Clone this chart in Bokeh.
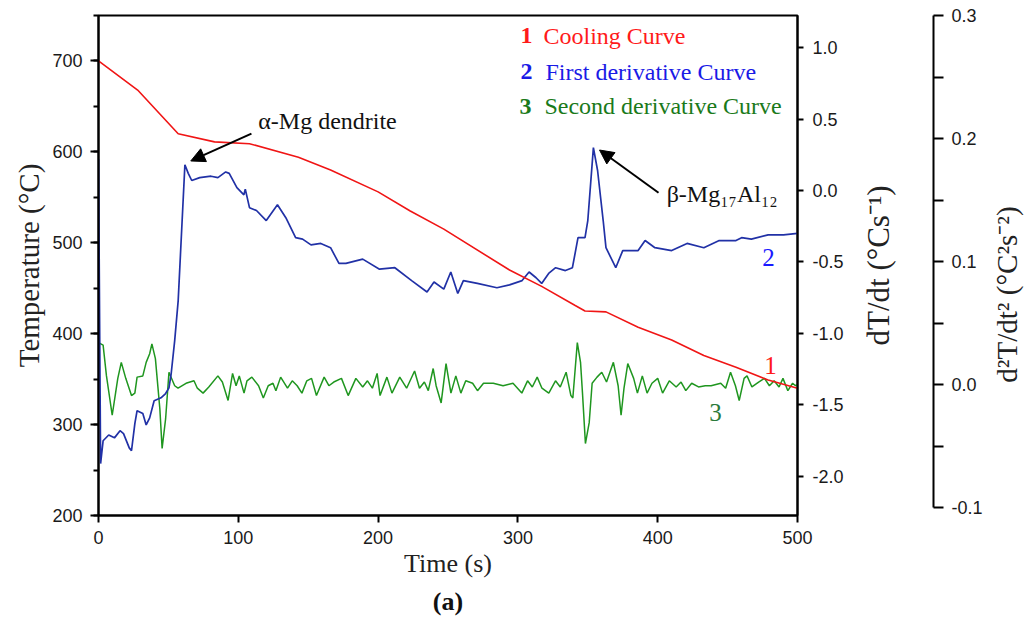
from bokeh.plotting import figure
from bokeh.layouts import row
from bokeh.models import (Range1d, LinearAxis, SingleIntervalTicker, FixedTicker,
                          PrintfTickFormatter, Label, Arrow, NormalHead, Title)
from bokeh.embed import file_html
from bokeh.resources import INLINE

# ---------------- data ----------------
# Cooling curve (left axis, deg C)
time_cool = [0, 28, 57, 83, 108, 143, 166, 200, 223, 247, 294, 317, 341, 348, 363,
             386, 410, 433, 456, 479, 500]
temp_cool = [700, 668, 620, 611, 609, 594, 580, 556, 535, 515, 470, 452, 431, 425, 424,
             407, 393, 376, 363, 349, 340]

# First derivative (dT/dt, deg C/s)
time_d1 = [0, 1.5, 3.3, 7.3, 11.4, 15.4, 17.9, 22, 23.6, 26,
           27.6, 31.7, 34.1, 36.6, 39.8, 44.7, 48, 50.4, 52, 54.5,
           57, 61.8, 64.2, 66.7, 72.4, 80.5, 85.4, 91, 93.5, 99,
           104, 105, 108, 113, 120, 128, 134, 141, 146, 152,
           159, 166, 172, 177, 189, 201, 212, 224, 235, 240,
           247, 252, 257, 261, 271, 285, 294, 303, 308, 313,
           317, 322, 327, 334, 339, 343, 348, 350, 354, 357,
           361, 363, 370, 375, 386, 391, 398, 410, 421, 433,
           444, 456, 460, 467, 479, 490, 500]
val_d1 = [0.22, -1.91, -1.75, -1.71, -1.73, -1.68, -1.70, -1.80, -1.82, -1.63,
          -1.54, -1.56, -1.64, -1.59, -1.47, -1.45, -1.42, -1.38, -1.28, -1.05,
          -0.77, 0.18, 0.12, 0.07, 0.09, 0.10, 0.09, 0.13, 0.12, 0.02,
          -0.03, 0.01, -0.12, -0.14, -0.21, -0.10, -0.19, -0.33, -0.34, -0.38,
          -0.37, -0.40, -0.51, -0.51, -0.48, -0.55, -0.54, -0.63, -0.71, -0.64,
          -0.69, -0.57, -0.72, -0.63, -0.65, -0.68, -0.66, -0.63, -0.57, -0.61,
          -0.65, -0.58, -0.54, -0.56, -0.54, -0.33, -0.33, -0.21, 0.30, 0.14,
          -0.21, -0.40, -0.54, -0.42, -0.42, -0.35, -0.40, -0.42, -0.37, -0.40,
          -0.35, -0.35, -0.33, -0.34, -0.31, -0.31, -0.30]

# Second derivative (d2T/dt2, deg C^2 s^-2)
time_d2 = [0, 3.3, 5.7, 9.8, 12.2, 13.8, 16.3, 19.5, 23.6, 26.0,
           27.6, 31.7, 34.1, 36.6, 38.2, 40.7, 43.9, 45.5, 48.0, 50.4,
           54.5, 56.9, 62.6, 68.3, 70.7, 74.8, 78.9, 85.4, 88.6, 92.7,
           95.9, 98.4, 100.7, 104.1, 106.2, 109.7, 114.5, 117.9, 121.4, 124.8,
           126.9, 130.3, 135.2, 138.6, 142.1, 145.5, 149.0, 152.4, 155.9, 161.4,
           164.8, 168.3, 173.8, 178.6, 184.1, 189.0, 192.4, 195.9, 199.3, 201.4,
           206.3, 209.9, 215.5, 220.4, 226.1, 229.6, 233.1, 235.9, 239.4, 241.5,
           245.1, 248.6, 252.1, 255.6, 259.2, 262.7, 267.6, 271.1, 275.4, 282.4,
           289.4, 296.5, 302.8, 306.9, 310.3, 313.8, 317.2, 322.1, 326.9, 330.3,
           334.5, 337.9, 339.3, 342.5, 344.8, 346.2, 348.3, 351.0, 353.1, 356.6,
           360.0, 363.4, 368.3, 371.7, 373.8, 375.9, 378.6, 382.8, 385.5, 389.0,
           392.4, 395.9, 400.0, 403.5, 408.3, 413.2, 416.7, 420.1, 424.3, 429.2,
           434.0, 438.2, 445.1, 448.6, 452.1, 455.6, 458.3, 461.8, 463.9, 467.4,
           472.2, 476.4, 479.9, 483.3, 486.8, 489.6, 493.1, 496.5, 498.6, 500]
val_d2 = [0.034, 0.032, 0.007, -0.025, -0.007, 0.005, 0.018, 0.005, -0.009, -0.007,
          0.006, 0.007, 0.018, 0.025, 0.033, 0.021, -0.020, -0.052, -0.028, 0.010,
          -0.001, -0.003, 0.001, 0.003, -0.003, -0.007, -0.002, 0.007, 0.002, -0.013,
          0.009, -0.001, 0.007, -0.007, 0.003, 0.006, -0.001, -0.011, -0.001, 0.001,
          -0.005, 0.006, -0.003, 0.003, -0.001, -0.007, 0.003, 0.005, -0.009, 0.006,
          -0.001, 0.002, 0.005, -0.009, 0.005, -0.002, 0.003, -0.003, 0.009, -0.009,
          0.006, -0.007, 0.006, -0.003, 0.011, -0.003, 0.002, -0.005, 0.013, -0.001,
          -0.015, 0.017, -0.007, 0.007, -0.007, 0.003, 0.001, -0.005, 0.001, 0.001,
          -0.001, 0.001, -0.007, 0.003, -0.002, 0.006, -0.003, -0.007, 0.003, -0.002,
          0.010, -0.009, -0.011, 0.034, 0.018, -0.007, -0.048, -0.031, 0.001, 0.006,
          0.010, 0.002, 0.018, -0.001, -0.025, -0.003, 0.017, 0.005, -0.007, 0.007,
          -0.007, 0.001, 0.005, -0.007, 0.003, -0.002, 0.002, -0.005, 0.001, -0.002,
          -0.001, -0.001, 0.001, -0.003, 0.010, -0.001, -0.013, 0.005, 0.007, -0.002,
          0.002, 0.005, -0.001, 0.003, -0.002, 0.005, -0.005, 0.001, -0.001, 0.000]

d2_ticks = [-0.1, 0.0, 0.1, 0.2, 0.3]
d2_minor_ticks = [-0.05, 0.05, 0.15, 0.25]

legend_numbers = ["1", "2", "3"]
legend_texts = ["Cooling Curve", "First derivative Curve", "Second derivative Curve"]

# ---------------- styling ----------------
SERIF = "Liberation Serif"
SANS = "Liberation Sans"
RED = "#f01515"
BLUE = "#2131a6"
GREEN = "#1f961f"

d1_range = Range1d(-2.273, 1.224)
d2_range = Range1d(-0.1065, 0.3)

p = figure(frame_width=699, frame_height=500, output_backend="svg", toolbar_location=None,
           x_range=Range1d(0, 500), y_range=Range1d(200, 750),
           min_border_left=98, min_border_top=15, min_border_right=50, min_border_bottom=0,
           background_fill_color="white", border_fill_color="white")
p.grid.visible = False
p.outline_line_color = "black"
p.outline_line_width = 2
p.extra_y_ranges = {"d1": d1_range, "d2": d2_range}


def style_axis(ax, tick_len):
    ax.axis_line_color = "black"
    ax.axis_line_width = 2
    ax.major_tick_line_color = "black"
    ax.major_tick_line_width = 2
    ax.minor_tick_line_color = "black"
    ax.minor_tick_line_width = 2
    ax.major_tick_in = 0
    ax.major_tick_out = tick_len
    ax.minor_tick_in = 0
    ax.major_label_text_font = SANS
    ax.major_label_text_font_size = "18px"
    ax.major_label_text_color = "#1a1a1a"
    ax.axis_label_text_font = SERIF
    ax.axis_label_text_font_style = "normal"
    ax.axis_label_text_color = "#222222"


def label_only_axis(ax, text, size, standoff):
    ax.ticker = FixedTicker(ticks=[])
    ax.axis_line_color = None
    ax.major_tick_line_color = None
    ax.minor_tick_line_color = None
    ax.major_tick_out = 0
    ax.major_tick_in = 0
    ax.minor_tick_out = 0
    ax.minor_tick_in = 0
    ax.axis_label = text
    ax.axis_label_text_font = SERIF
    ax.axis_label_text_font_style = "normal"
    ax.axis_label_text_font_size = size
    ax.axis_label_text_color = "#222222"
    ax.axis_label_standoff = standoff


# bottom axis
xa = p.xaxis[0]
xa.ticker = SingleIntervalTicker(interval=100, num_minor_ticks=0)
style_axis(xa, 7)
xa.minor_tick_out = 0
xa.major_label_standoff = 8
xa.axis_label = "Time (s)"
xa.axis_label_text_font_size = "26px"
xa.axis_label_standoff = 2

# left axis
ya = p.yaxis[0]
ya.ticker = SingleIntervalTicker(interval=100, num_minor_ticks=2)
style_axis(ya, 8)
ya.minor_tick_out = 5
ya.major_label_standoff = 8
ya.axis_label = "Temperature (°C)"
ya.axis_label_text_font_size = "29px"
ya.axis_label_standoff = 4

# right axis: dT/dt
ax1 = LinearAxis(y_range_name="d1",
                 ticker=SingleIntervalTicker(interval=0.5, num_minor_ticks=0),
                 formatter=PrintfTickFormatter(format="%.1f"))
style_axis(ax1, 6)
ax1.minor_tick_out = 0
ax1.major_label_standoff = 9
p.add_layout(ax1, "right")

# (a) caption
p.add_layout(Title(text="(a)", align="center", text_font=SERIF, text_font_size="26px",
                   text_font_style="bold", text_color="#111111", standoff=8), "below")

# ---------------- curves ----------------
p.line(time_d2, val_d2, y_range_name="d2", line_color=GREEN, line_width=1.5)
p.line(time_d1, val_d1, y_range_name="d1", line_color=BLUE, line_width=1.7)
p.line(time_cool, temp_cool, line_color=RED, line_width=1.6)

# ---------------- text annotations ----------------
num_colors = ["#ff1a1a", "#1a1ae6", "#1a7a1a"]
row_y = [728, 688.4, 650]
num_x = [301.9, 301.9, 301.1]
txt_x = [318.3, 319.7, 319.0]
for i in range(3):
    p.add_layout(Label(x=num_x[i], y=row_y[i], text=legend_numbers[i], text_font=SERIF,
                       text_font_size="24px", text_font_style="bold",
                       text_color=num_colors[i], text_baseline="middle", text_align="left"))
    p.add_layout(Label(x=txt_x[i], y=row_y[i], text=legend_texts[i], text_font=SERIF,
                       text_font_size="24px", text_color=num_colors[i],
                       text_baseline="middle", text_align="left"))

p.add_layout(Label(x=480.7, y=365, text="1", text_font=SERIF, text_font_size="25px",
                   text_color="#ff1a1a", text_align="center", text_baseline="middle"))
p.add_layout(Label(x=479.3, y=484, text="2", text_font=SERIF, text_font_size="25px",
                   text_color="#1a1aff", text_align="center", text_baseline="middle"))
p.add_layout(Label(x=441.3, y=313, text="3", text_font=SERIF, text_font_size="25px",
                   text_color="#2a7a3a", text_align="center", text_baseline="middle"))

p.add_layout(Label(x=163.8, y=634.5, text="α-Mg dendrite", text_font=SERIF,
                   text_font_size="24px", text_color="#111111",
                   text_align="center", text_baseline="middle"))
p.add_layout(Arrow(x_start=109.4, y_start=620, x_end=66, y_end=590, line_width=2,
                   line_color="black",
                   end=NormalHead(size=14, fill_color="black", line_color="black")))

p.add_layout(Label(x=406.4, y=554, text="β-Mg₁₇Al₁₂", text_font=SERIF,
                   text_font_size="24px", text_color="#111111",
                   text_align="left", text_baseline="middle"))
p.add_layout(Arrow(x_start=400.6, y_start=555, x_end=358.4, y_end=602, line_width=2,
                   line_color="black",
                   end=NormalHead(size=14, fill_color="black", line_color="black")))

# ---------------- second panel: dT/dt title + d2T/dt2 axis ----------------
q = figure(frame_width=2, frame_height=500, output_backend="svg", toolbar_location=None,
           x_range=Range1d(0, 1), y_range=d2_range,
           min_border_left=84, min_border_top=15, min_border_right=50, min_border_bottom=25,
           background_fill_color="white", border_fill_color="white")
q.grid.visible = False
q.outline_line_color = None
q.xaxis.visible = False
label_only_axis(q.yaxis[0], "dT/dt (°Cs⁻¹)", "31px", 36)

ax2 = LinearAxis(bounds=(-0.1, 0.3),
                 ticker=FixedTicker(ticks=d2_ticks, minor_ticks=d2_minor_ticks),
                 formatter=PrintfTickFormatter(format="%.1f"))
style_axis(ax2, 10)
ax2.minor_tick_out = 10
ax2.major_label_standoff = 8
q.add_layout(ax2, "right")

# ---------------- third panel: d2T/dt2 title ----------------
r = figure(frame_width=2, frame_height=500, output_backend="svg", toolbar_location=None,
           x_range=Range1d(0, 1), y_range=Range1d(0, 1),
           min_border_left=40, min_border_top=15, min_border_right=0, min_border_bottom=25,
           background_fill_color="white", border_fill_color="white")
r.grid.visible = False
r.outline_line_color = None
r.xaxis.visible = False
label_only_axis(r.yaxis[0], "d²T/dt² (°C²s⁻²)" + "\u00a0" * 8, "29px", 3)

layout = row(p, q, r, spacing=0)
open("out.html", "w").write(file_html(layout, INLINE))
